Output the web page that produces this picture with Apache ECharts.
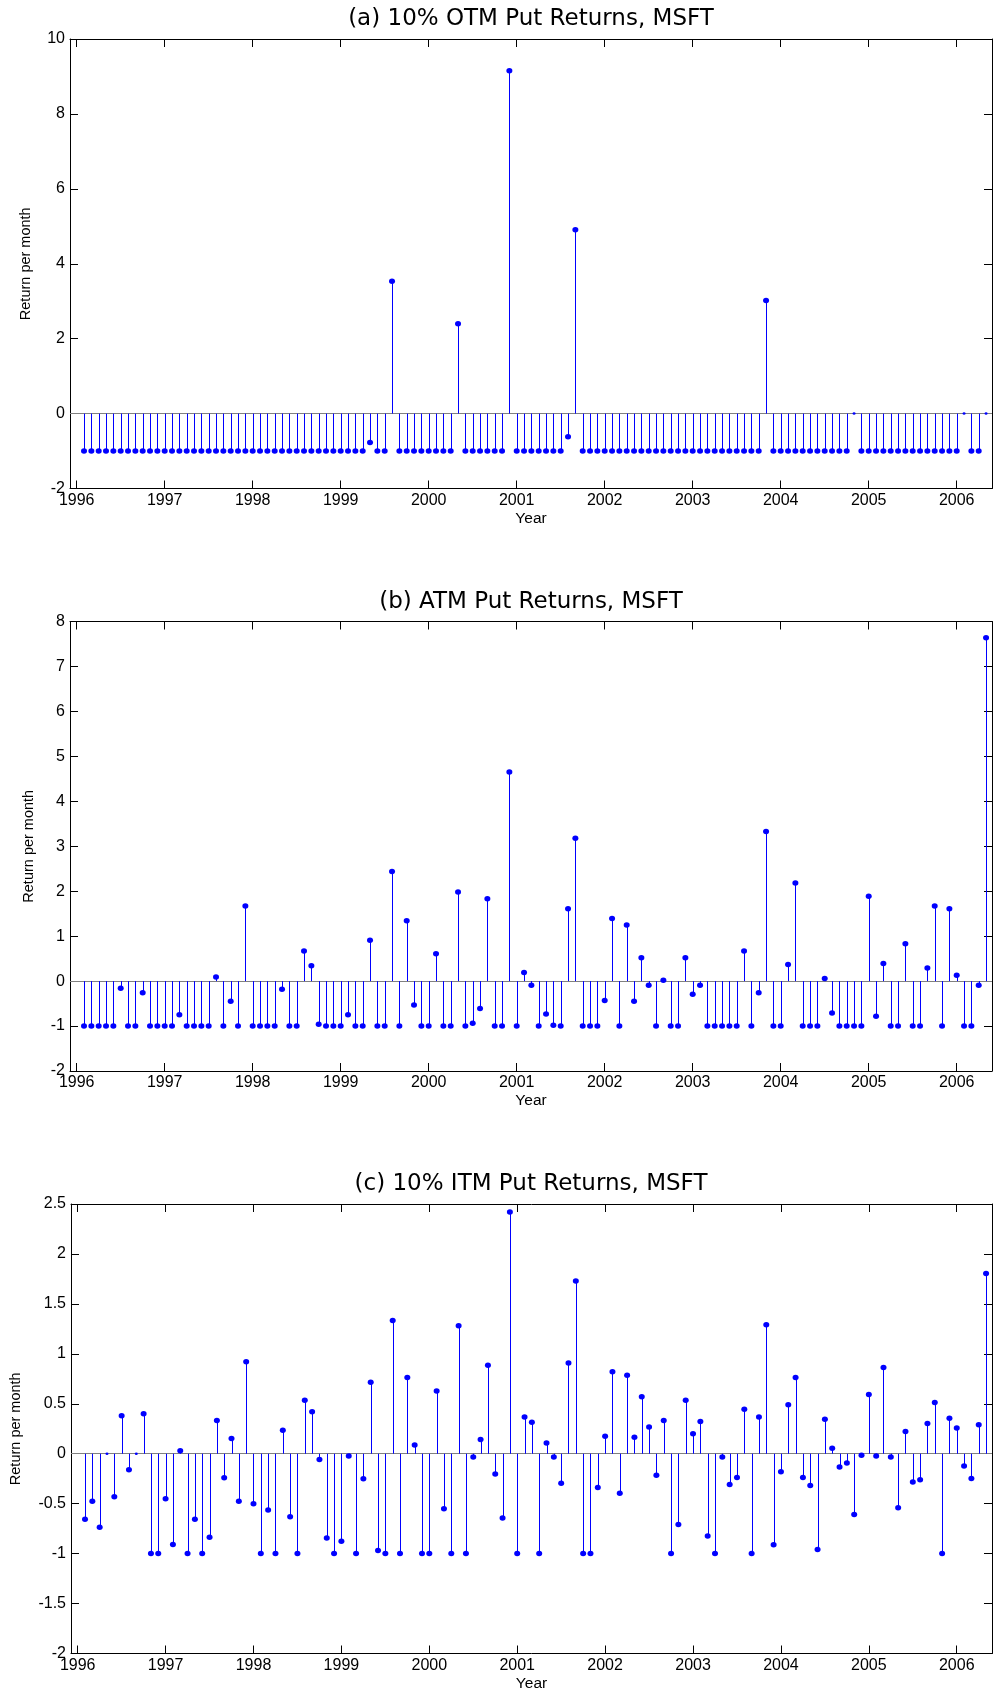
<!DOCTYPE html>
<html>
<head>
<meta charset="utf-8">
<script src="https://cdn.jsdelivr.net/npm/echarts@6/dist/echarts.min.js"></script>
<style>
html,body{margin:0;padding:0;background:#ffffff;}
#chart{width:993px;height:1695px;}
</style>
</head>
<body>
<div id="chart"></div>
<script>
// ---------------- data ----------------
const yearTicks = [1996, 1997, 1998, 1999, 2000, 2001, 2002, 2003, 2004, 2005, 2006];
const startYear = 1996;
const startMonth = 2; // first observation: Feb 1996, monthly to May 2006

const panelTitles = [
  '(a) 10% OTM Put Returns, MSFT',
  '(b) ATM Put Returns, MSFT',
  '(c) 10% ITM Put Returns, MSFT'
];
const xAxisTitle = 'Year';
const yAxisTitle = 'Return per month';

const otmReturns = [
  -1, -1, -1, -1, -1, -1, -1, -1, -1, -1, -1, -1,
  -1, -1, -1, -1, -1, -1, -1, -1, -1, -1, -1, -1,
  -1, -1, -1, -1, -1, -1, -1, -1, -1, -1, -1, -1,
  -1, -1, -1, -0.77, -1, -1, 3.53, -1, -1, -1, -1, -1,
  -1, -1, -1, 2.40, -1, -1, -1, -1, -1, -1, 9.15, -1,
  -1, -1, -1, -1, -1, -1, -0.62, 4.91, -1, -1, -1, -1,
  -1, -1, -1, -1, -1, -1, -1, -1, -1, -1, -1, -1,
  -1, -1, -1, -1, -1, -1, -1, -1, -1, 3.02, -1, -1,
  -1, -1, -1, -1, -1, -1, -1, -1, -1, 0, -1, -1,
  -1, -1, -1, -1, -1, -1, -1, -1, -1, -1, -1, -1,
  0, -1, -1, 0
];

const atmReturns = [
  -1, -1, -1, -1, -1, -0.16, -1, -1, -0.26, -1, -1, -1,
  -1, -0.75, -1, -1, -1, -1, 0.09, -1, -0.45, -1, 1.67, -1,
  -1, -1, -1, -0.18, -1, -1, 0.67, 0.34, -0.96, -1, -1, -1,
  -0.75, -1, -1, 0.91, -1, -1, 2.44, -1, 1.34, -0.53, -1, -1,
  0.61, -1, -1, 1.98, -1, -0.94, -0.61, 1.83, -1, -1, 4.65, -1,
  0.19, -0.09, -1, -0.73, -0.98, -1, 1.61, 3.18, -1, -1, -1, -0.43,
  1.39, -1, 1.25, -0.45, 0.52, -0.09, -1, 0.02, -1, -1, 0.52, -0.29,
  -0.09, -1, -1, -1, -1, -1, 0.67, -1, -0.26, 3.33, -1, -1,
  0.37, 2.18, -1, -1, -1, 0.06, -0.71, -1, -1, -1, -1, 1.89,
  -0.78, 0.39, -1, -1, 0.83, -1, -1, 0.29, 1.67, -1, 1.61, 0.13,
  -1, -1, -0.09, 7.64
];

const itmReturns = [
  -0.655, -0.475, -0.735, 0, -0.43, 0.38, -0.16, 0, 0.40, -1, -1, -0.45,
  -0.91, 0.03, -1, -0.655, -1, -0.835, 0.333, -0.24, 0.153, -0.475, 0.92, -0.50,
  -1, -0.563, -1, 0.234, -0.632, -1, 0.536, 0.42, -0.057, -0.843, -1, -0.877,
  -0.023, -1, -0.25, 0.716, -0.97, -1, 1.333, -1, 0.762, 0.088, -1, -1,
  0.628, -0.552, -1, 1.28, -1, -0.034, 0.142, 0.885, -0.203, -0.644, 2.42, -1,
  0.368, 0.314, -1, 0.107, -0.034, -0.295, 0.908, 1.728, -1, -1, -0.337, 0.176,
  0.82, -0.395, 0.785, 0.165, 0.571, 0.268, -0.215, 0.333, -1, -0.709, 0.536, 0.199,
  0.322, -0.824, -1, -0.034, -0.307, -0.238, 0.444, -1, 0.368, 1.291, -0.912, -0.18,
  0.49, 0.762, -0.238, -0.318, -0.958, 0.345, 0.054, -0.134, -0.092, -0.609, -0.015, 0.594,
  -0.023, 0.862, -0.034, -0.54, 0.222, -0.284, -0.261, 0.303, 0.513, -1, 0.356, 0.257,
  -0.123, -0.249, 0.291, 1.805
];

const yMins = [-2, -2, -2];
const yMaxs = [10, 8, 2.5];
const ySteps = [2, 1, 0.5];
const xMin = 1995.924;
const xMax = 2006.401;

// ---------------- layout / style ----------------
const seriesValues = [otmReturns, atmReturns, itmReturns];
const gridTops = [39, 621.5, 1204];
const gridHeight = 449.5;
const yNameGaps = [37, 34, 48];
const gridLeft = 70;
const gridWidth = 922;
const stemColor = '#0000ff';
const baseColor = '#808080';
const labelFont = 'Liberation Sans';
const titleFont = 'DejaVu Sans';

function monthToYear(k) { return startYear + (startMonth - 1 + k) / 12; }

const grids = [], xAxes = [], yAxes = [], series = [], graphics = [];

seriesValues.forEach((vals, p) => {
  const pts = vals.map((v, k) => [monthToYear(k), v]);
  grids.push({ left: gridLeft, top: gridTops[p], width: gridWidth, height: gridHeight, containLabel: false });

  const axisLineStyle = { color: '#000', width: 1 };
  // bottom x axis
  xAxes.push({
    gridIndex: p, type: 'value', position: 'bottom', min: xMin, max: xMax,
    axisLine: { show: true, onZero: false, lineStyle: axisLineStyle },
    axisTick: { show: true, inside: true, length: 8, customValues: yearTicks, lineStyle: axisLineStyle },
    axisLabel: { show: true, customValues: yearTicks, margin: 4, color: '#000', fontFamily: labelFont, fontSize: 16,
      formatter: v => String(Math.round(v)) },
    splitLine: { show: false },
    name: xAxisTitle, nameLocation: 'middle', nameGap: 22,
    nameTextStyle: { color: '#000', fontFamily: labelFont, fontSize: 15.5 }
  });
  // top x axis (frame)
  xAxes.push({
    gridIndex: p, type: 'value', position: 'top', min: xMin, max: xMax,
    axisLine: { show: true, onZero: false, lineStyle: axisLineStyle },
    axisTick: { show: true, inside: true, length: 8, customValues: yearTicks, lineStyle: axisLineStyle },
    axisLabel: { show: false },
    splitLine: { show: false }
  });
  // left y axis
  yAxes.push({
    gridIndex: p, type: 'value', position: 'left', min: yMins[p], max: yMaxs[p], interval: ySteps[p],
    axisLine: { show: true, onZero: false, lineStyle: axisLineStyle },
    axisTick: { show: true, inside: true, length: 8, lineStyle: axisLineStyle },
    axisLabel: { show: true, margin: 5, color: '#000', fontFamily: labelFont, fontSize: 16,
      formatter: v => String(Math.round(v * 100) / 100) },
    splitLine: { show: false },
    name: yAxisTitle, nameLocation: 'middle', nameGap: yNameGaps[p],
    nameTextStyle: { color: '#000', fontFamily: labelFont, fontSize: 14.5 }
  });
  // right y axis (frame)
  yAxes.push({
    gridIndex: p, type: 'value', position: 'right', min: yMins[p], max: yMaxs[p], interval: ySteps[p],
    axisLine: { show: true, onZero: false, lineStyle: axisLineStyle },
    axisTick: { show: true, inside: true, length: 8, lineStyle: axisLineStyle },
    axisLabel: { show: false },
    splitLine: { show: false }
  });

  // stems
  series.push({
    type: 'custom', xAxisIndex: 2 * p, yAxisIndex: 2 * p, data: pts, z: 2, clip: true,
    renderItem: (params, api) => {
      const x = api.value(0), y = api.value(1);
      const a = api.coord([x, 0]);
      const b = api.coord([x, y]);
      const px = Math.round(a[0]) + 0.5;
      return {
        type: 'line',
        shape: { x1: px, y1: a[1], x2: px, y2: b[1] },
        style: { stroke: stemColor, lineWidth: 1, opacity: 1 }
      };
    }
  });
  // markers + baseline
  series.push({
    type: 'scatter', xAxisIndex: 2 * p, yAxisIndex: 2 * p, data: pts, z: 3,
    symbol: 'circle',
    symbolSize: v => (v[1] === 0 ? [3, 2.5] : [6, 5.5]),
    itemStyle: { color: stemColor, opacity: 1 },
    emphasis: { disabled: true },
    markLine: {
      silent: true, symbol: 'none', label: { show: false }, z: 2,
      lineStyle: { color: baseColor, type: 'solid', width: 1, opacity: 1 },
      data: [{ yAxis: 0 }]
    }
  });

  graphics.push({
    type: 'text', x: gridLeft + gridWidth / 2, y: gridTops[p] - 19.5,
    style: { text: panelTitles[p], textAlign: 'center', textVerticalAlign: 'middle',
      fontFamily: titleFont, fontSize: 23, fill: '#000' }
  });
});

const chart = echarts.init(document.getElementById('chart'), null, { renderer: 'canvas' });
chart.setOption({
  animation: false,
  backgroundColor: '#ffffff',
  grid: grids,
  xAxis: xAxes,
  yAxis: yAxes,
  series: series,
  graphic: graphics
});
</script>
</body>
</html>
